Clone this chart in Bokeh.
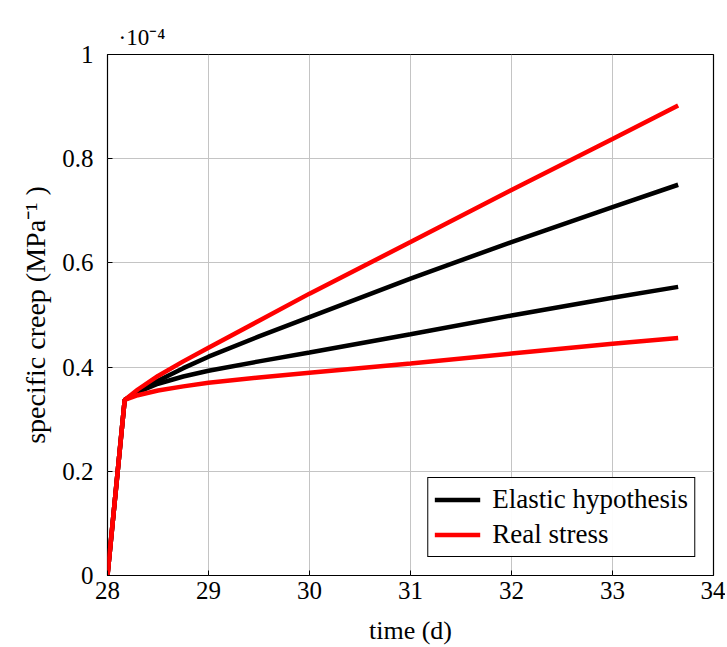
from bokeh.plotting import figure
from bokeh.models import FixedTicker, Legend, LegendItem, Title
from bokeh.embed import file_html
from bokeh.resources import INLINE

# time (d)
t = [28.0, 28.17, 28.3, 28.5, 28.75, 29.0, 29.5, 30.0, 31.0, 32.0, 33.0, 33.65]
# specific creep, in units of 1e-4 MPa^-1
elastic_upper = [0, 0.337, 0.353, 0.374, 0.398, 0.420, 0.459, 0.496, 0.570, 0.640, 0.707, 0.750]
elastic_lower = [0, 0.337, 0.352, 0.368, 0.382, 0.393, 0.411, 0.428, 0.463, 0.499, 0.533, 0.554]
real_upper = [0, 0.337, 0.357, 0.383, 0.411, 0.437, 0.489, 0.541, 0.640, 0.740, 0.838, 0.902]
real_lower = [0, 0.337, 0.346, 0.355, 0.363, 0.370, 0.380, 0.389, 0.407, 0.426, 0.445, 0.456]

x_ticks = [28, 29, 30, 31, 32, 33, 34]
y_ticks = [0, 0.2, 0.4, 0.6, 0.8, 1.0]
y_tick_labels = {0: "0", 0.2: "0.2", 0.4: "0.4", 0.6: "0.6", 0.8: "0.8", 1.0: "1"}

FONT = "Liberation Serif"

# exponent marker of the y axis
exp_title = Title(text="·10⁻⁴", align="left", offset=11, text_font=FONT,
                  text_font_size="23px", text_font_style="normal",
                  text_color="black", standoff=10)

p = figure(width=725, height=647, x_range=(28, 34), y_range=(0, 1),
           output_backend="svg", toolbar_location=None, title=exp_title,
           min_border_left=107, min_border_top=54, min_border_right=12,
           min_border_bottom=71)

p.outline_line_color = "black"
p.outline_line_width = 1.2

for ax in (p.xaxis[0], p.yaxis[0]):
    ax.axis_line_color = None
    ax.major_tick_in = 5
    ax.major_tick_out = 0
    ax.minor_tick_line_color = None
    ax.major_tick_line_color = "black"
    ax.major_label_text_font = FONT
    ax.major_label_text_font_size = "25px"
    ax.major_label_text_color = "black"
    ax.axis_label_text_font = FONT
    ax.axis_label_text_font_style = "normal"
    ax.axis_label_text_color = "black"

p.xaxis.axis_label_text_font_size = "26px"
p.yaxis.axis_label_text_font_size = "28px"
p.xaxis.ticker = FixedTicker(ticks=x_ticks)
p.yaxis.ticker = FixedTicker(ticks=y_ticks)
p.yaxis.major_label_overrides = y_tick_labels
p.xaxis.axis_label = "time (d)"
p.yaxis.axis_label = "specific creep (MPa⁻¹ )"
p.xaxis.major_label_standoff = 6
p.yaxis.major_label_standoff = 14
p.xaxis.axis_label_standoff = 14
p.yaxis.axis_label_standoff = 8

p.grid.grid_line_color = "#c4c4c4"
p.grid.grid_line_width = 1
p.xgrid.ticker = FixedTicker(ticks=x_ticks)
p.ygrid.ticker = FixedTicker(ticks=y_ticks)

lw = 4.5
r1 = p.line(t, elastic_upper, line_color="black", line_width=lw)
r2 = p.line(t, elastic_lower, line_color="black", line_width=lw)
r3 = p.line(t, real_upper, line_color="red", line_width=lw)
r4 = p.line(t, real_lower, line_color="red", line_width=lw)

legend = Legend(items=[LegendItem(label="Elastic hypothesis", renderers=[r1]),
                       LegendItem(label="Real stress", renderers=[r3])],
                location="bottom_right")
legend.label_text_font = FONT
legend.label_text_font_size = "27px"
legend.label_text_color = "black"
legend.border_line_color = "black"
legend.border_line_width = 1
legend.border_line_alpha = 1
legend.glyph_width = 46
legend.glyph_height = 27
legend.label_height = 27
legend.spacing = 4
legend.padding = 6
legend.margin = 18
legend.label_standoff = 12
p.add_layout(legend, "center")

open("out.html", "w").write(file_html(p, INLINE))
